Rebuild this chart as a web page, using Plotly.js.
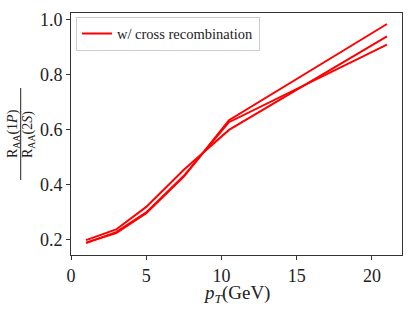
<!DOCTYPE html>
<html>
<head>
<meta charset="utf-8">
<script src="https://cdn.plot.ly/plotly-3.0.1.min.js"></script>
<style>html,body{margin:0;padding:0;background:#fff}#chart{width:415px;height:311px}</style>
</head>
<body>
<div id="chart"></div>
<script>
const pt = [1, 3, 5, 7.5, 10.5, 21];
const seriesA = [0.190, 0.225, 0.297, 0.430, 0.635, 0.985];
const seriesB = [0.188, 0.228, 0.300, 0.433, 0.628, 0.910];
const seriesC = [0.199, 0.238, 0.320, 0.455, 0.600, 0.940];
const legendName = "w/ cross recombination";
const xTicks = [0, 5, 10, 15, 20];
const yTicks = [0.2, 0.4, 0.6, 0.8, 1.0];

const font = "Liberation Serif, DejaVu Serif, serif";
const red = "#ff0000";
const traces = [seriesA, seriesB, seriesC].map((ys, i) => ({
  x: pt, y: ys, type: "scatter", mode: "lines",
  line: {color: red, width: 2},
  name: legendName, showlegend: i === 0
}));

const layout = {
  width: 415, height: 311,
  margin: {l: 71, r: 13, t: 13, b: 56},
  paper_bgcolor: "#fff", plot_bgcolor: "#fff",
  font: {family: font, color: "#222", size: 18},
  showlegend: true,
  legend: {x: 0.015, y: 0.985, xanchor: "left", yanchor: "top",
           bgcolor: "#fff", bordercolor: "#cccccc", borderwidth: 1,
           tracegroupgap: 0, itemwidth: 30,
           font: {family: font, size: 14.5, color: "#222"}},
  xaxis: {range: [0, 22], tickvals: xTicks, ticktext: xTicks.map(String),
          showgrid: false, zeroline: false, showline: true, mirror: true,
          linecolor: "#333", linewidth: 1, ticks: "outside", ticklen: 4,
          tickcolor: "#333", tickfont: {size: 18}},
  yaxis: {range: [0.145, 1.025], tickvals: yTicks, ticktext: yTicks.map(v => v.toFixed(1)),
          showgrid: false, zeroline: false, showline: true, mirror: true,
          linecolor: "#333", linewidth: 1, ticks: "outside", ticklen: 4,
          tickcolor: "#333", tickfont: {size: 18}},
  annotations: [
    {xref: "paper", yref: "paper", x: 0.5, y: -0.16, xanchor: "center", yanchor: "middle",
     text: "<i>p</i><sub><i>T</i></sub>(GeV)", showarrow: false, borderpad: 0,
     font: {size: 19, family: font, color: "#222"}},
    {xref: "paper", yref: "paper", x: -0.175, y: 0.5, xanchor: "center", yanchor: "middle",
     text: "R<sub>AA</sub>(1<i>P</i>)", textangle: -90, showarrow: false,
     font: {size: 14, family: font, color: "#222"}},
    {xref: "paper", yref: "paper", x: -0.13, y: 0.5, xanchor: "center", yanchor: "middle",
     text: "R<sub>AA</sub>(2<i>S</i>)", textangle: -90, showarrow: false,
     font: {size: 14, family: font, color: "#222"}}
  ],
  shapes: [
    {type: "line", xref: "paper", yref: "paper", x0: -0.152, x1: -0.152, y0: 0.31, y1: 0.69,
     line: {color: "#222", width: 1}}
  ]
};
Plotly.newPlot("chart", traces, layout, {displayModeBar: false, staticPlot: true});
</script>
</body>
</html>
